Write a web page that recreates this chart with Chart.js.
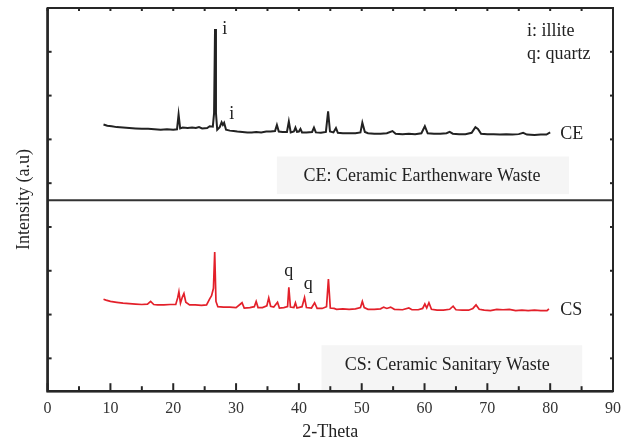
<!DOCTYPE html>
<html><head><meta charset="utf-8">
<script src="https://cdn.jsdelivr.net/npm/chart.js@4/dist/chart.umd.min.js"></script>
<style>html,body{margin:0;padding:0;background:#fff}</style>
</head><body>
<canvas id="c" width="633" height="443"></canvas>
<script>
// ---- Data (2-Theta, intensity in arbitrary offset units) ----
const ceX = [8.9,9.5,10.2,11.0,12.0,13.0,14.0,15.0,16.0,17.0,18.0,19.0,20.0,20.6,20.85,21.1,21.5,22.3,23.0,23.6,24.1,24.6,25.4,25.8,26.3,26.5,26.65,26.8,27.0,27.4,27.7,27.9,28.1,28.4,29.0,29.6,30.2,31.0,31.8,32.5,33.2,34.0,34.8,35.5,36.2,36.5,36.8,37.4,38.1,38.4,38.7,39.2,39.45,39.7,40.0,40.25,40.5,41.2,42.1,42.4,42.7,43.5,44.3,44.65,44.95,45.5,45.9,46.2,47.0,48.0,49.0,49.8,50.1,50.5,51.0,52.0,53.0,54.0,54.9,55.4,56.5,57.5,58.5,59.5,60.05,60.5,61.5,62.5,63.5,64.0,64.5,65.5,66.5,67.5,68.1,68.5,69.0,70.0,71.0,72.0,73.0,74.0,75.0,75.7,76.3,77.5,78.5,79.4,80.0];
const ceY = [5.34,5.31,5.30,5.28,5.27,5.26,5.25,5.24,5.24,5.23,5.22,5.23,5.22,5.23,5.57,5.25,5.27,5.26,5.27,5.26,5.28,5.25,5.26,5.30,5.29,5.60,7.52,5.60,5.22,5.28,5.39,5.33,5.38,5.22,5.20,5.19,5.18,5.17,5.16,5.16,5.17,5.16,5.18,5.18,5.19,5.33,5.18,5.17,5.17,5.41,5.16,5.18,5.27,5.17,5.18,5.24,5.16,5.16,5.17,5.27,5.16,5.15,5.17,5.64,5.18,5.16,5.26,5.15,5.14,5.14,5.14,5.16,5.38,5.17,5.14,5.13,5.13,5.14,5.19,5.13,5.12,5.13,5.12,5.14,5.30,5.14,5.13,5.13,5.14,5.17,5.13,5.12,5.12,5.15,5.28,5.24,5.13,5.12,5.12,5.11,5.12,5.11,5.12,5.15,5.11,5.10,5.11,5.11,5.16];

const csX = [8.9,9.3,10.0,11.0,12.0,13.0,14.0,15.0,15.9,16.4,16.9,17.5,18.5,19.5,20.4,20.7,20.9,21.15,21.45,21.7,22.0,22.6,23.5,24.5,25.3,25.8,26.1,26.4,26.6,26.8,27.1,28.0,29.0,30.0,30.95,31.3,32.2,32.9,33.2,33.5,34.2,34.9,35.2,35.5,36.0,36.6,36.9,37.6,38.2,38.4,38.65,39.2,39.45,39.7,40.5,40.9,41.2,42.0,42.5,42.9,43.7,44.4,44.7,45.0,45.6,46.0,47.0,48.0,49.0,49.8,50.1,50.4,51.0,52.0,53.0,53.5,54.0,54.6,55.2,56.5,57.5,58.0,59.0,59.7,60.05,60.35,60.7,61.1,62.0,63.0,64.0,64.55,65.0,66.0,67.0,67.7,68.2,68.7,69.5,70.5,71.5,72.5,73.5,74.5,75.5,76.5,77.5,78.5,79.5,79.8];
const csY = [1.35,1.33,1.30,1.28,1.26,1.25,1.24,1.23,1.24,1.30,1.23,1.22,1.22,1.23,1.23,1.38,1.52,1.26,1.40,1.48,1.28,1.22,1.22,1.21,1.22,1.36,1.43,1.60,2.43,1.30,1.18,1.17,1.17,1.16,1.27,1.15,1.16,1.18,1.30,1.16,1.16,1.20,1.38,1.19,1.17,1.28,1.15,1.16,1.18,1.62,1.17,1.16,1.27,1.15,1.18,1.39,1.16,1.15,1.27,1.14,1.14,1.18,1.81,1.15,1.14,1.12,1.13,1.12,1.13,1.16,1.30,1.16,1.12,1.12,1.13,1.17,1.14,1.17,1.12,1.11,1.15,1.11,1.11,1.14,1.24,1.15,1.27,1.12,1.10,1.10,1.12,1.19,1.11,1.10,1.10,1.14,1.22,1.12,1.10,1.09,1.12,1.11,1.12,1.09,1.10,1.09,1.10,1.09,1.09,1.13];

const xTickValues = [0,10,20,30,40,50,60,70,80,90];
const yTickValues = [0,1,2,3,4,5,6,7,8];

// annotation texts
const peakLabels = ['i','i','q','q'];
const peakLabelX = [28.2,29.3,38.4,41.5];
const peakLabelY = [7.52,5.57,1.98,1.70];
const legendLines = ['i: illite','q: quartz'];
const legendX = 76.3;
const legendY = [7.48,6.94];
const seriesNames = ['CE','CS'];
const seriesNameX = 81.6;
const seriesNameY = [5.11,1.09];
const captions = ['CE: Ceramic Earthenware Waste','CS: Ceramic Sanitary Waste'];
const captionX = [59.6,63.6];
const captionY = [4.16,-0.16];
const captionBoxX0 = [36.5,43.6];
const captionBoxX1 = [83.0,85.1];
const captionBoxY0 = [4.61,0.30];
const captionBoxY1 = [3.75,-0.75];
const separatorY = 3.61;

const FONT = '"Liberation Serif", "DejaVu Serif", serif';

const decor = {
  id: 'decor',
  beforeDatasetsDraw(chart) {
    const {ctx, scales:{x, y}} = chart;
    ctx.save();
    ctx.fillStyle = '#f5f5f5';
    for (let i = 0; i < captions.length; i++) {
      const x0 = x.getPixelForValue(captionBoxX0[i]), x1 = x.getPixelForValue(captionBoxX1[i]);
      const y0 = y.getPixelForValue(captionBoxY0[i]), y1 = y.getPixelForValue(captionBoxY1[i]);
      ctx.fillRect(x0, y0, x1 - x0, y1 - y0);
    }
    ctx.restore();
  },
  afterDatasetsDraw(chart) {
    const {ctx, chartArea:a, scales:{x, y}} = chart;
    ctx.save();
    // separator
    ctx.strokeStyle = '#333';
    ctx.lineWidth = 2;
    const sy = y.getPixelForValue(separatorY);
    ctx.beginPath(); ctx.moveTo(a.left, sy); ctx.lineTo(a.right, sy); ctx.stroke();
    // frame
    ctx.strokeStyle = '#262626';
    ctx.lineWidth = 2;
    ctx.strokeRect(a.left, a.top, a.right - a.left, a.bottom - a.top);
    ctx.lineWidth = 2.5;
    ctx.beginPath(); ctx.moveTo(a.left, a.top); ctx.lineTo(a.left, a.bottom); ctx.lineTo(a.right, a.bottom); ctx.stroke();
    // ticks
    ctx.lineWidth = 2;
    for (let v = 0; v <= 90; v += 5) {
      const px = x.getPixelForValue(v);
      const len = v % 10 === 0 ? 8 : 5;
      ctx.beginPath(); ctx.moveTo(px, a.bottom); ctx.lineTo(px, a.bottom - len); ctx.stroke();
      ctx.beginPath(); ctx.moveTo(px, a.top); ctx.lineTo(px, a.top + 3); ctx.stroke();
    }
    for (const v of yTickValues) {
      const py = y.getPixelForValue(v);
      ctx.beginPath(); ctx.moveTo(a.left, py); ctx.lineTo(a.left + 4, py); ctx.stroke();
      ctx.beginPath(); ctx.moveTo(a.right - 3, py); ctx.lineTo(a.right + 1, py); ctx.stroke();
    }
    // texts
    ctx.fillStyle = '#222';
    ctx.textBaseline = 'middle';
    ctx.font = '18px ' + FONT;
    ctx.textAlign = 'center';
    for (let i = 0; i < peakLabels.length; i++) {
      ctx.fillText(peakLabels[i], x.getPixelForValue(peakLabelX[i]), y.getPixelForValue(peakLabelY[i]));
    }
    ctx.textAlign = 'left';
    for (let i = 0; i < legendLines.length; i++) {
      ctx.fillText(legendLines[i], x.getPixelForValue(legendX), y.getPixelForValue(legendY[i]));
    }
    for (let i = 0; i < seriesNames.length; i++) {
      ctx.fillText(seriesNames[i], x.getPixelForValue(seriesNameX), y.getPixelForValue(seriesNameY[i]));
    }
    ctx.textAlign = 'center';
    for (let i = 0; i < captions.length; i++) {
      ctx.fillText(captions[i], x.getPixelForValue(captionX[i]), y.getPixelForValue(captionY[i]));
    }
    ctx.restore();
  }
};

new Chart(document.getElementById('c'), {
  type: 'line',
  data: {
    datasets: [
      { label: 'CE', data: ceX.map((v, i) => ({x: v, y: ceY[i]})), borderColor: '#222', borderWidth: 2, pointRadius: 0, tension: 0, fill: false },
      { label: 'CS', data: csX.map((v, i) => ({x: v, y: csY[i]})), borderColor: '#e3202a', borderWidth: 1.7, pointRadius: 0, tension: 0, fill: false }
    ]
  },
  options: {
    responsive: false,
    animation: false,
    devicePixelRatio: 1,
    layout: { padding: { left: 5, right: 20, top: 8, bottom: 0 } },
    plugins: { legend: { display: false }, tooltip: { enabled: false } },
    scales: {
      x: {
        type: 'linear', min: 0, max: 90,
        afterBuildTicks: (s) => { s.ticks = xTickValues.map(v => ({value: v})); },
        ticks: { color: '#333', font: { family: FONT, size: 16 }, padding: 8, maxRotation: 0, autoSkip: false },
        grid: { display: false, drawTicks: false },
        border: { display: false },
        title: { display: true, text: '2-Theta', color: '#222', font: { family: FONT, size: 18 }, padding: { top: -5, bottom: 0 } }
      },
      y: {
        type: 'linear', min: -0.75, max: 8,
        ticks: { display: false },
        grid: { display: false, drawTicks: false },
        border: { display: false },
        title: { display: true, text: 'Intensity (a.u)', color: '#222', font: { family: FONT, size: 18 }, padding: { top: 8, bottom: 13 } }
      }
    }
  },
  plugins: [decor]
});
</script>
</body></html>
